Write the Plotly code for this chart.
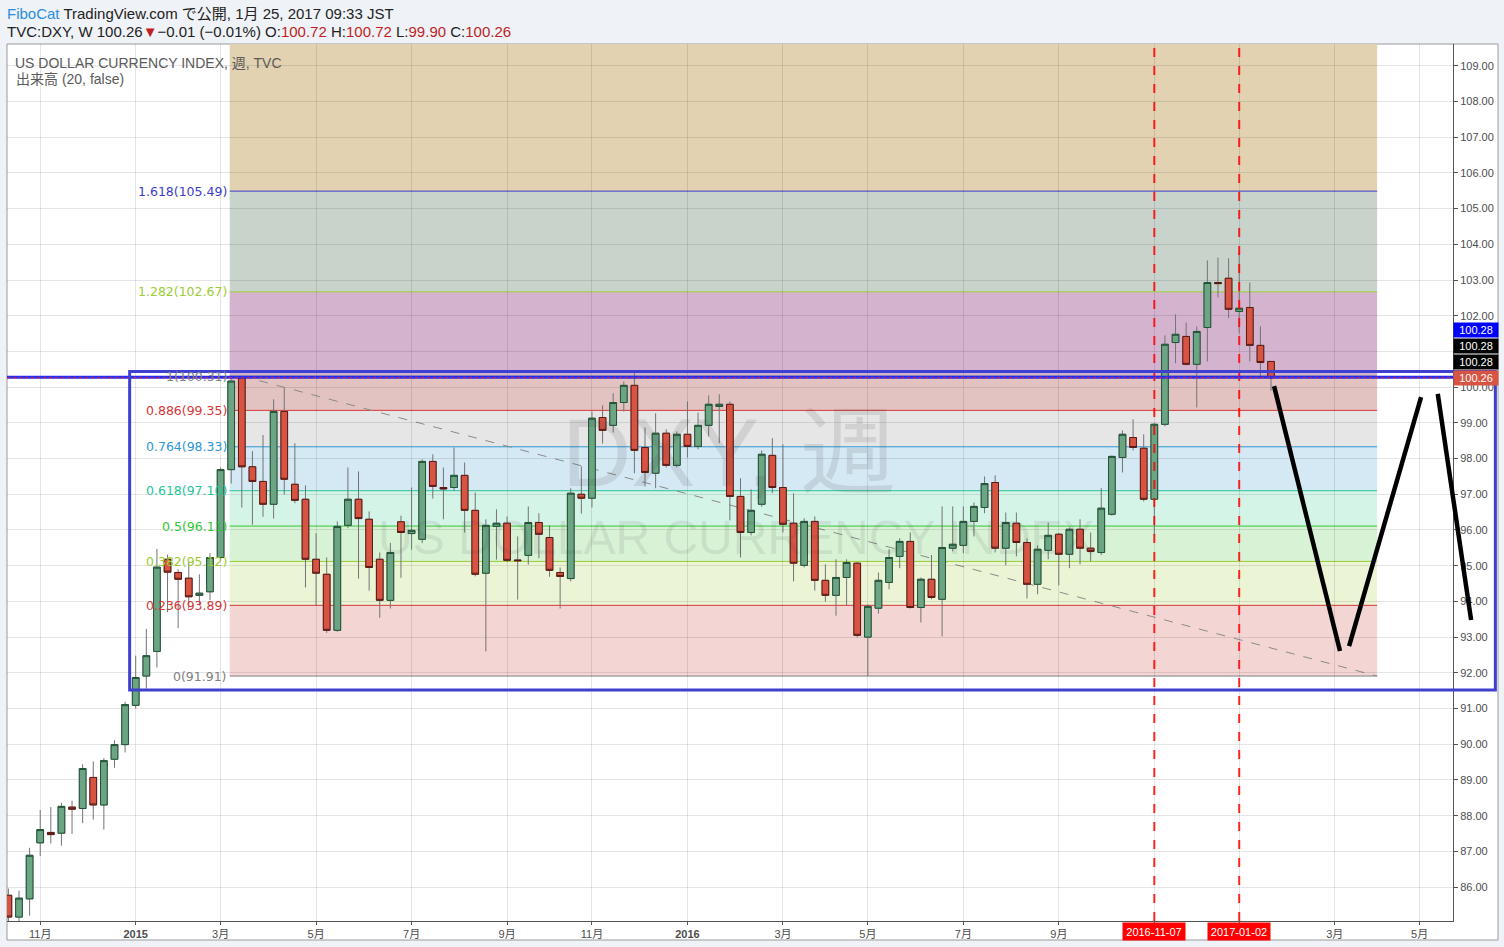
import pandas as pd
import plotly.graph_objects as go

# ---------------- data (weekly bars, TVC:DXY) ----------------
open_ = [85.77, 85.16, 85.67, 87.24, 87.53, 87.51, 88.24, 88.20, 89.07, 88.30,
         89.58, 89.99, 91.09, 91.91, 92.60, 95.18, 94.81, 94.65, 94.17, 94.27,
         95.23, 97.69, 100.25, 97.77, 97.36, 96.72, 99.32, 97.28, 96.86, 95.18,
         94.76, 93.19, 96.13, 96.86, 96.30, 95.18, 94.03, 96.23, 95.90, 95.74,
         97.92, 97.19, 97.19, 97.53, 96.55, 94.79, 96.10, 96.19, 95.16, 95.29,
         96.21, 95.79, 94.81, 94.64, 97.00, 96.89, 99.15, 98.93, 99.57, 100.05,
         98.31, 97.59, 98.71, 97.81, 98.68, 98.34, 98.93, 99.46, 99.52, 96.94,
         95.93, 96.72, 98.09, 97.19, 96.19, 95.01, 96.24, 94.59, 94.17, 94.67,
         95.07, 93.00, 93.81, 94.53, 95.26, 95.68, 93.83, 94.62, 94.06, 95.49,
         95.57, 96.24, 96.63, 97.33, 95.49, 96.19, 95.65, 94.48, 95.43, 95.88,
         95.32, 96.02, 95.49, 95.37, 96.44, 98.03, 98.59, 98.29, 96.86, 98.96,
         101.25, 101.42, 100.64, 101.67, 102.93, 103.05, 102.12, 102.23, 101.17, 100.72]
high = [85.96, 85.90, 87.10, 88.16, 88.24, 88.36, 88.42, 89.44, 89.52, 89.61,
        90.11, 91.19, 92.48, 93.23, 95.47, 95.31, 94.90, 95.10, 94.76, 95.35,
        97.75, 100.31, 100.31, 98.21, 98.66, 99.66, 99.97, 98.43, 97.25, 95.91,
        95.23, 96.24, 97.75, 97.64, 96.52, 95.37, 95.64, 96.40, 97.19, 97.98,
        98.12, 97.75, 98.31, 97.89, 97.05, 96.30, 96.58, 96.38, 95.82, 96.66,
        96.47, 96.13, 94.95, 97.17, 97.78, 99.32, 99.49, 99.83, 100.16, 100.43,
        98.87, 99.27, 98.82, 98.76, 99.60, 99.29, 99.77, 99.80, 99.60, 97.45,
        97.14, 98.23, 98.57, 98.40, 97.03, 96.33, 96.38, 95.04, 95.18, 95.18,
        95.10, 93.92, 94.81, 95.46, 95.77, 95.93, 94.67, 95.30, 96.66, 96.66,
        96.66, 96.77, 97.50, 97.53, 96.49, 96.49, 95.77, 95.57, 96.21, 95.92,
        96.07, 96.30, 95.93, 97.17, 98.09, 98.79, 99.10, 98.68, 99.00, 101.45,
        102.04, 101.81, 101.70, 103.55, 103.63, 103.61, 103.82, 102.93, 101.70, 100.72]
low = [84.90, 84.95, 85.20, 86.87, 87.22, 87.16, 87.49, 87.79, 87.89, 87.61,
       89.34, 89.77, 91.00, 91.56, 92.15, 93.70, 93.25, 93.80, 93.92, 94.04,
       95.15, 97.30, 96.63, 96.15, 96.37, 96.32, 96.99, 96.75, 94.39, 93.89,
       93.12, 93.15, 96.05, 94.64, 94.30, 93.54, 93.80, 94.66, 95.45, 95.63,
       96.88, 96.30, 97.10, 95.93, 94.70, 92.60, 95.17, 95.10, 94.05, 95.03,
       95.21, 94.69, 93.80, 94.56, 96.46, 96.63, 98.42, 98.73, 99.32, 97.59,
       97.22, 97.17, 97.75, 97.75, 98.03, 98.26, 98.62, 98.43, 96.27, 95.23,
       95.85, 96.65, 97.03, 95.93, 94.56, 94.95, 94.30, 93.99, 93.60, 93.89,
       92.99, 91.91, 93.66, 94.34, 94.93, 93.80, 93.41, 94.06, 93.02, 95.40,
       95.35, 95.82, 96.47, 95.37, 95.01, 95.26, 94.08, 94.20, 95.18, 94.45,
       94.93, 95.04, 95.12, 95.30, 96.40, 97.61, 98.23, 96.80, 95.85, 98.90,
       100.67, 100.61, 99.43, 100.72, 102.51, 101.93, 101.50, 100.72, 100.30, 99.90]
close = [85.16, 85.69, 86.89, 87.61, 87.47, 88.26, 88.18, 89.32, 88.30, 89.54,
         89.99, 91.11, 91.87, 92.48, 94.96, 94.82, 94.62, 94.13, 94.23, 95.23,
         97.69, 100.17, 97.77, 97.36, 96.72, 99.32, 97.42, 96.83, 95.18, 94.79,
         93.19, 96.10, 96.86, 96.32, 94.95, 94.03, 95.37, 95.93, 95.99, 97.92,
         97.22, 97.15, 97.53, 96.55, 94.76, 96.13, 96.19, 95.15, 95.14, 96.21,
         95.88, 94.87, 94.70, 97.03, 96.89, 99.13, 98.79, 99.57, 100.05, 98.23,
         97.61, 98.71, 97.81, 98.68, 98.34, 98.93, 99.52, 99.52, 96.94, 95.93,
         96.55, 98.12, 97.19, 96.16, 95.07, 96.24, 94.59, 94.17, 94.67, 95.09,
         93.05, 93.86, 94.59, 95.23, 95.68, 93.83, 94.62, 94.11, 95.51, 95.60,
         96.24, 96.66, 97.30, 95.49, 96.21, 95.65, 94.48, 95.46, 95.85, 95.32,
         96.02, 95.49, 95.40, 96.61, 98.06, 98.68, 98.31, 96.86, 98.96, 101.20,
         101.48, 100.64, 101.56, 102.93, 102.90, 102.18, 102.21, 101.17, 100.69, 100.26]
assert len(open_) == len(high) == len(low) == len(close)
first_bar = "2014-10-13"
dates = pd.date_range(first_bar, periods=len(open_), freq="7D")

# Fibonacci retracement (drawn object)
fib_ratios = ["0", "0.236", "0.382", "0.5", "0.618", "0.764", "0.886", "1", "1.282", "1.618"]
fib_prices = [91.91, 93.89, 95.12, 96.11, 97.10, 98.33, 99.35, 100.31, 102.67, 105.49]
fib_next_level = 113.90  # 2.618 level, above the visible range
fib_line_colors = ["#808080", "#d83636", "#9ccc33", "#33c633", "#25c49a",
                   "#2d96d2", "#d83636", "#808080", "#9ccc33", "#3c3cc8"]
fib_fill_colors = ["#f3d5d4", "#ebf5d5", "#d7f2d5", "#d5f4e8", "#d5e9f4",
                   "#e6e6e6", "#e2c3c2", "#d4b3ce", "#c8d3cc", "#e2d2b1"]
fib_start = "2015-03-08"
fib_end = "2017-04-03"
trend_pts = [("2015-03-16", 100.31), ("2017-04-03", 91.91)]

# vertical date markers
marker_dates = ["2016-11-07", "2017-01-02"]

# x-axis ticks (first weekly bar of each labelled month)
tick_dates = ["2014-11-03", "2015-01-05", "2015-03-02", "2015-05-04", "2015-07-06",
              "2015-09-07", "2015-11-02", "2016-01-04", "2016-03-07", "2016-05-02",
              "2016-07-04", "2016-09-05", "2016-11-07", "2017-01-02", "2017-03-06",
              "2017-05-01"]
tick_text = ["11月", "<b>2015</b>", "3月", "5月", "7月", "9月", "11月", "<b>2016</b>",
             "3月", "5月", "7月", "9月", "", "", "3月", "5月"]

# price-scale ticks (101.00 is covered by the price tags in the original)
y_ticks = list(range(86, 110))
y_tick_hidden = [101]

# price lines / labels
hline_price = 100.28
last_price = 100.26
price_tags = [("100.28", "#0000ff", 48), ("100.28", "#000000", 32),
              ("100.28", "#000000", 16), ("100.26", "#d75442", 0)]

# user drawings
box_corners = [("2015-01-01", 91.52), ("2017-06-20", 100.44)]
w_segments = [[("2017-01-25", 100.03), ("2017-03-09 12:00", 92.61)],
              [("2017-03-15 12:00", 92.75), ("2017-05-02", 99.72)],
              [("2017-05-13", 99.81), ("2017-06-04", 93.48)]]

# ---------------- geometry ----------------
FIG_W, FIG_H = 1504, 947
ML, MR, MT, MB = 7, 51, 44, 26
PW, PH = FIG_W - ML - MR, FIG_H - MT - MB
anchor = pd.Timestamp("2016-11-07")
week = pd.Timedelta(days=7)
x_start = anchor + week * (-108.13)
x_end = anchor + week * 28.15
y_range = [85.05, 109.61]


def xp(d):
    return (pd.Timestamp(d) - x_start) / (x_end - x_start)


def yp(p):
    return (p - y_range[0]) / (y_range[1] - y_range[0])


def pxx(px):
    return (px - ML) / PW


def pxy(py):
    return (MT + PH - py) / PH


shapes = []
# white chart panel
shapes.append(dict(type="rect", xref="paper", yref="paper", x0=pxx(7), x1=pxx(1498),
                   y0=pxy(940), y1=pxy(44), fillcolor="white",
                   line=dict(color="#9a9a9a", width=1), layer="below"))
# fib fills
bounds = fib_prices + [fib_next_level]
for i in range(len(fib_prices)):
    shapes.append(dict(type="rect", xref="x", yref="y", x0=fib_start, x1=fib_end,
                       y0=bounds[i], y1=bounds[i + 1], fillcolor=fib_fill_colors[i],
                       line=dict(width=0), layer="below"))
for p, c in zip(fib_prices, fib_line_colors):
    shapes.append(dict(type="line", xref="x", yref="y", x0=fib_start, x1=fib_end,
                       y0=p, y1=p, line=dict(color=c, width=1), layer="below"))
shapes.append(dict(type="line", xref="x", yref="y", x0=trend_pts[0][0], y0=trend_pts[0][1],
                   x1=trend_pts[1][0], y1=trend_pts[1][1],
                   line=dict(color="#8a8a8a", width=1, dash="dash"), layer="below"))
# vertical red dashed markers
for d in marker_dates:
    shapes.append(dict(type="line", xref="x", yref="paper", x0=d, x1=d, y0=0, y1=1,
                       line=dict(color="rgba(255,0,0,0.85)", width=2, dash="dash"),
                       layer="above"))
# horizontal blue line and last price line
shapes.append(dict(type="line", xref="paper", yref="y", x0=0, x1=1, y0=hline_price,
                   y1=hline_price, line=dict(color="#2b2bf0", width=3), layer="above"))
shapes.append(dict(type="line", xref="paper", yref="y", x0=0, x1=1, y0=last_price,
                   y1=last_price, line=dict(color="#e03030", width=1, dash="dot"),
                   layer="above"))
# blue rectangle (extends over the price scale)
shapes.append(dict(type="rect", xref="paper", yref="paper",
                   x0=xp(box_corners[0][0]), x1=xp(box_corners[1][0]),
                   y0=yp(box_corners[0][1]), y1=yp(box_corners[1][1]),
                   line=dict(color="#4040d0", width=3), fillcolor="rgba(0,0,0,0)",
                   layer="above"))
# black projection lines
for seg in w_segments:
    (d0, p0), (d1, p1) = seg
    shapes.append(dict(type="line", xref="paper", yref="paper", x0=xp(d0), y0=yp(p0),
                       x1=xp(d1), y1=yp(p1), line=dict(color="black", width=4.5),
                       layer="above"))

annotations = []
FONT = "Liberation Sans, Arial, Noto Sans CJK JP, sans-serif"
# header
annotations.append(dict(xref="paper", yref="paper", x=pxx(5), y=pxy(13),
                        xanchor="left", yanchor="middle", showarrow=False,
                        text='<span style="color:#2a8fdb">FiboCat</span> TradingView.com で公開, 1月 25, 2017 09:33 JST',
                        font=dict(family=FONT, size=15, color="#222222")))
red = "#c01f1f"
annotations.append(dict(xref="paper", yref="paper", x=pxx(5), y=pxy(31.5),
                        xanchor="left", yanchor="middle", showarrow=False,
                        text=(f'TVC:DXY, W 100.26<span style="color:{red}">▼</span>−0.01 (−0.01%) '
                              f'O:<span style="color:{red}">100.72</span> H:<span style="color:{red}">100.72</span> '
                              f'L:<span style="color:{red}">99.90</span> C:<span style="color:{red}">100.26</span>'),
                        font=dict(family=FONT, size=15, color="#222222")))
# legend texts in the pane
annotations.append(dict(xref="paper", yref="paper", x=pxx(13), y=pxy(62.5),
                        xanchor="left", yanchor="middle", showarrow=False,
                        text="US DOLLAR CURRENCY INDEX, 週, TVC",
                        font=dict(family=FONT, size=14, color="#5a5a5a")))
annotations.append(dict(xref="paper", yref="paper", x=pxx(14), y=pxy(79.5),
                        xanchor="left", yanchor="middle", showarrow=False,
                        text="出来高 (20, false)",
                        font=dict(family=FONT, size=14, color="#5a5a5a")))
# watermark
annotations.append(dict(xref="paper", yref="paper", x=pxx(729), y=pxy(452),
                        xanchor="center", yanchor="middle", showarrow=False,
                        text="DXY, 週", font=dict(family=FONT, size=96,
                                                  color="rgba(60,60,60,0.12)")))
annotations.append(dict(xref="paper", yref="paper", x=pxx(736), y=pxy(537),
                        xanchor="center", yanchor="middle", showarrow=False,
                        text="US DOLLAR CURRENCY INDEX", font=dict(family=FONT, size=48,
                                                                 color="rgba(60,60,60,0.11)")))
# fib labels
for r, p, c in zip(fib_ratios, fib_prices, fib_line_colors):
    annotations.append(dict(xref="x", yref="y", x=fib_start, y=p, xanchor="right",
                            yanchor="middle", xshift=-1, showarrow=False,
                            text=f"{r}({p:.2f})",
                            font=dict(family="DejaVu Sans, Verdana, sans-serif", size=12.5,
                                      color=c)))
# date marker tags on the time axis
for d in marker_dates:
    annotations.append(dict(xref="x", yref="paper", x=d, y=pxy(931.5), xanchor="center",
                            yanchor="middle", showarrow=False, text=d, bgcolor="#ff0000",
                            width=60, height=15, borderpad=1,
                            font=dict(family=FONT, size=11, color="white")))
# price tags on the price scale
for txt, col, shift in price_tags:
    annotations.append(dict(xref="paper", yref="y", x=1, y=last_price, xanchor="left",
                            yanchor="middle", yshift=shift, showarrow=False, text=txt,
                            bgcolor=col, width=42, height=12, borderpad=1,
                            font=dict(family=FONT, size=11, color="white")))

body_hi = [max(o, c) for o, c in zip(open_, close)]
body_lo = [min(o, c) for o, c in zip(open_, close)]
WICK = "#737375"

fig = go.Figure()
fig.add_trace(go.Candlestick(
    x=dates, open=open_, high=high, low=low, close=close,
    increasing=dict(line=dict(color=WICK, width=1), fillcolor=WICK),
    decreasing=dict(line=dict(color=WICK, width=1), fillcolor=WICK),
    whiskerwidth=0, hoverinfo="skip", showlegend=False))
fig.add_trace(go.Candlestick(
    x=dates, open=open_, high=body_hi, low=body_lo, close=close,
    increasing=dict(line=dict(color="#225437", width=1), fillcolor="#6ba583"),
    decreasing=dict(line=dict(color="#5b1a13", width=1), fillcolor="#d75442"),
    whiskerwidth=0, hoverinfo="skip", showlegend=False))

y_ticktext = ["" if v in y_tick_hidden else f"{v:.2f}" for v in y_ticks]

fig.update_layout(
    width=FIG_W, height=FIG_H,
    margin=dict(l=ML, r=MR, t=MT, b=MB, pad=0),
    paper_bgcolor="#eff2f6", plot_bgcolor="white",
    showlegend=False, hovermode=False,
    boxgap=0.37, boxgroupgap=0,
    shapes=shapes, annotations=annotations,
    xaxis=dict(type="date", range=[x_start, x_end], rangeslider=dict(visible=False),
               tickmode="array", tickvals=tick_dates, ticktext=tick_text,
               showgrid=True, gridcolor="rgba(0,0,0,0.1)", gridwidth=1,
               showline=True, linecolor="#555555", linewidth=1, mirror=False,
               ticks="outside", ticklen=3, tickcolor="#555555",
               tickfont=dict(family=FONT, size=11, color="#4d4d4d"), zeroline=False),
    yaxis=dict(side="right", range=y_range, tickmode="array", tickvals=y_ticks,
               ticktext=y_ticktext,
               showgrid=True, gridcolor="rgba(0,0,0,0.1)", gridwidth=1,
               showline=True, linecolor="#555555", linewidth=1,
               ticks="outside", ticklen=4, tickcolor="#555555",
               tickfont=dict(family=FONT, size=11, color="#4d4d4d"), zeroline=False),
)

fig.write_html("out.html", config={"displayModeBar": False},
               post_script="document.body.style.margin='0';document.body.style.overflow='hidden';")
